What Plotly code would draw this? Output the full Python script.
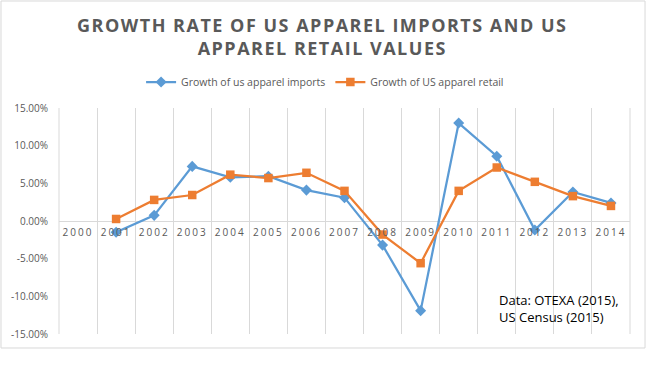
import plotly.graph_objects as go

years = ["2000", "2001", "2002", "2003", "2004", "2005", "2006", "2007",
         "2008", "2009", "2010", "2011", "2012", "2013", "2014"]
series_years = years[1:]
imports_growth = [-1.5, 0.75, 7.25, 5.8, 5.95, 4.1, 3.1, -3.2, -11.9, 13.0, 8.6, -1.2, 3.85, 2.4]
retail_growth = [0.27, 2.8, 3.45, 6.15, 5.7, 6.4, 4.0, -1.8, -5.6, 4.0, 7.1, 5.2, 3.3, 2.0]
y_ticks = [-15, -10, -5, 0, 5, 10, 15]
y_tick_labels = ["-15.00%", "-10.00%", "-5.00%", "0.00%", "5.00%", "10.00%", "15.00%"]

title_lines = ["GROWTH RATE OF US APPAREL IMPORTS AND US", "APPAREL RETAIL VALUES"]
note_lines = ["Data: OTEXA (2015),", "US Census (2015)"]

BLUE = "#5B9BD5"
ORANGE = "#ED7D31"
GRID = "#D9D9D9"
TXT = "#595959"

fig = go.Figure()
fig.add_trace(go.Scatter(
    x=series_years, y=imports_growth, mode="lines+markers",
    name="Growth of us apparel imports",
    line=dict(color=BLUE, width=2.25),
    marker=dict(symbol="diamond", size=8.5, color=BLUE),
))
fig.add_trace(go.Scatter(
    x=series_years, y=retail_growth, mode="lines+markers",
    name="Growth of US apparel retail",
    line=dict(color=ORANGE, width=2.25),
    marker=dict(symbol="square", size=8.5, color=ORANGE),
))

spaced = lambda s, px: f'<span style="letter-spacing:{px}px">{s}</span>'

edge_lines = [dict(type="line", xref="paper", yref="paper", x0=xp, x1=xp, y0=0, y1=1,
                   line=dict(color=GRID, width=1), layer="below") for xp in (0, 1)]

fig.update_layout(
    width=670, height=369,
    margin=dict(l=59, r=40, t=108, b=35, autoexpand=False),
    paper_bgcolor="white", plot_bgcolor="white",
    title=dict(
        text="<br>".join(spaced(t, 1.5) for t in title_lines),
        font=dict(family="Open Sans", size=18, color=TXT, weight="bold"),
        x=0.481, xref="container", xanchor="center",
        y=0.914, yref="container", yanchor="top",
    ),
    legend=dict(
        orientation="h", x=0.466, xanchor="center", y=1.115, yanchor="middle",
        font=dict(family="Open Sans", size=10.5, color=TXT),
        bgcolor="rgba(0,0,0,0)", itemwidth=30,
    ),
    xaxis=dict(
        type="category", categoryorder="array", categoryarray=years,
        range=[-0.5, len(years) - 0.5],
        tickmode="array", tickvals=years, ticktext=[spaced(y, 2) for y in years],
        tickson="boundaries", ticks="", tickangle=0,
        showgrid=True, gridcolor=GRID, gridwidth=1,
        showline=False, zeroline=False,
        anchor="free", position=0.5,
        tickfont=dict(family="Open Sans", size=10, color=TXT),
        ticklabelstandoff=4,
    ),
    yaxis=dict(
        range=[-15, 15], tickmode="array", tickvals=y_ticks, ticktext=y_tick_labels,
        showgrid=False, zeroline=True, zerolinecolor=GRID, zerolinewidth=1,
        showline=False, ticks="",
        tickfont=dict(family="Open Sans", size=10, color=TXT),
        ticklabelstandoff=10,
        domain=[0, 1],
    ),
    shapes=[dict(
        type="rect", xref="paper", yref="paper",
        x0=-0.1016, x1=1.0263, y0=-0.0619, y1=1.4735,
        line=dict(color=GRID, width=1), fillcolor="rgba(0,0,0,0)", layer="below",
    )] + edge_lines,
    annotations=[dict(
        text="<br>".join(note_lines), xref="paper", yref="paper",
        x=0.767, y=0.115, xanchor="left", yanchor="middle", align="left",
        showarrow=False,
        font=dict(family="Open Sans", size=13, color="#000000"),
    )],
)

fig.write_html("out.html", config={"displayModeBar": False},
               post_script="document.body.style.margin='0';")
